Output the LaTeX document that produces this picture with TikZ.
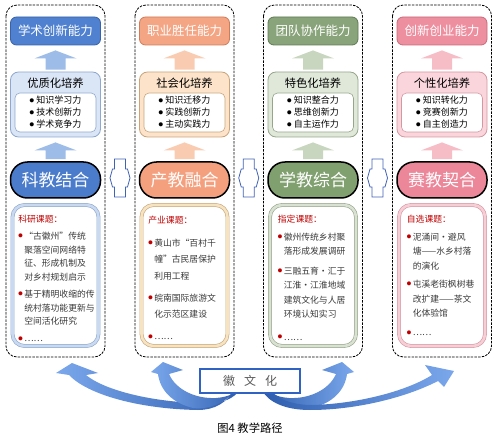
\documentclass[tikz,border=0pt]{standalone}
\usepackage{fontspec}
\setmainfont{Noto Sans CJK SC}
\usepackage{tikz}
\usetikzlibrary{calc}

% column colours
\definecolor{main1}{HTML}{4F81D0}\definecolor{edge1}{HTML}{3A62A6}
\definecolor{arr1}{HTML}{9DBCE8}\definecolor{soft1}{HTML}{DAE5F5}
\definecolor{line1}{HTML}{8FA8CF}\definecolor{band1}{HTML}{C9D9F0}
\definecolor{oval1}{HTML}{4A7CCB}
\definecolor{main2}{HTML}{F4A584}\definecolor{edge2}{HTML}{CF7C5A}
\definecolor{arr2}{HTML}{F9CCB2}\definecolor{soft2}{HTML}{FCE3CA}
\definecolor{line2}{HTML}{C9A57C}\definecolor{band2}{HTML}{F6E3C0}
\definecolor{oval2}{HTML}{F4A07E}
\definecolor{main3}{HTML}{89A47A}\definecolor{edge3}{HTML}{5F7A53}
\definecolor{arr3}{HTML}{C9D6BF}\definecolor{soft3}{HTML}{E0E8DA}
\definecolor{line3}{HTML}{97A68B}\definecolor{band3}{HTML}{D9E1D3}
\definecolor{oval3}{HTML}{80A06F}
\definecolor{main4}{HTML}{EE8FA0}\definecolor{edge4}{HTML}{C96A7A}
\definecolor{arr4}{HTML}{F7BDC7}\definecolor{soft4}{HTML}{FAD5DC}
\definecolor{line4}{HTML}{D498A3}\definecolor{band4}{HTML}{F7CED5}
\definecolor{oval4}{HTML}{EC8699}
\definecolor{titred}{HTML}{C00000}
\definecolor{bodygray}{HTML}{3A3A3A}
\definecolor{arrlight}{HTML}{7BA8EC}
\definecolor{arrdark}{HTML}{2E5DAE}
\definecolor{huiblue}{HTML}{2F62C2}
\definecolor{dblblue}{HTML}{4062B4}

\newcommand{\bdot}[1]{\textcolor{#1}{\raisebox{0.18em}{\scalebox{0.5}{●}}}}
\newcommand{\rdot}{\bdot{titred}\,}
\newcommand{\ind}{\hphantom{\rdot}}

\newcommand{\blockarrow}[3]{%
  \fill[#1] ($(#3.south)+(0,5)$) -- ++(21,8) -- ++(-11,0)
    -- ($(#2.north)+(10,-2)$) -- ++(-20,0)
    -- ($(#3.south)+(-10,13)$) -- ++(-11,0) -- cycle;}

\tikzset{
  outerbox/.style={draw, line width=0.8pt, dash pattern=on 2.5pt off 1.2pt, rounded corners=11pt},
  abbox/.style={rounded corners=6pt, minimum width=90pt, minimum height=28pt, line width=0.8pt,
    text=white, font=\fontsize{12.5}{14}\selectfont},
  cubox/.style={rounded corners=8pt, minimum width=90pt, minimum height=65pt, line width=0.8pt},
  cutitle/.style={font=\fontsize{11.3}{13}\selectfont},
  listbox/.style={fill=white, rounded corners=5pt, minimum width=81pt, minimum height=39pt,
    line width=0.6pt, align=left, font=\fontsize{9}{12}\selectfont},
  ovbox/.style={rounded corners=17pt, minimum width=90pt, minimum height=36pt, draw=black,
    line width=1.5pt, text=white, font=\fontsize{17}{19}\selectfont},
  pjbox/.style={fill=white, rounded corners=12pt, minimum width=86pt, minimum height=141pt,
    line width=0.6pt, double distance=2.6pt},
  pjtext/.style={anchor=north west, inner sep=0pt, align=left, text=bodygray},
  dblarrow/.style={draw=dblblue, fill=white, line width=0.8pt, line join=miter},
  culture/.style={draw=huiblue, fill=white, line width=1.2pt, minimum width=100pt,
    minimum height=24pt, text=black!65, font=\fontsize{12}{14}\selectfont},
}

\begin{document}
\begin{tikzpicture}[x=1pt, y=-1pt]
\useasboundingbox (0,0) rectangle (499,436);

% four columns
\foreach \n/\x/\ab/\cu/\ov/\la/\lb/\lc in {
  1/55.5/学术创新能力/优质化培养/科教结合/知识学习力/技术创新力/学术竞争力,
  2/184.5/职业胜任能力/社会化培养/产教融合/知识迁移力/实践创新力/主动实践力,
  3/313/团队协作能力/特色化培养/学教综合/知识整合力/思维创新力/自主运作力,
  4/442/创新创业能力/个性化培养/赛教契合/知识转化力/竞赛创新力/自主创造力}
{
  \draw[outerbox] (\x-49.5,5) rectangle (\x+49.5,357);
  \node[abbox, fill=main\n, draw=edge\n] (ab\n) at (\x,31) {\ab};
  \node[cubox, fill=soft\n, draw=line\n] (cu\n) at (\x,104.5) {};
  \node[cutitle] (ct\n) at (\x,83) {\cu};
  \node[listbox, draw=line\n] (li\n) at (\x,112.5)
    {\bdot{black}\ \la\\ \bdot{black}\ \lb\\ \bdot{black}\ \lc};
  \node[ovbox, fill=oval\n] (ov\n) at (\x,180) {\ov};
  \node[pjbox, draw=line\n, double=band\n] (pj\n) at (\x,275.5) {};
  \blockarrow{arr\n}{cu\n}{ab\n}
  \blockarrow{arr\n}{ov\n}{cu\n}
}

% project texts
\node[pjtext, font=\fontsize{8.8}{13.7}\selectfont] (tx1) at ($(pj1.north west)+(6,10)$)
  {\textcolor{titred}{科研课题：}\\[3.3pt]
   \rdot“古徽州”传统\\ \ind 聚落空间网络特\\ \ind 征、形成机制及\\ \ind 对乡村规划启示\\[3.3pt]
   \rdot 基于精明收缩的传\\ \ind 统村落功能更新与\\ \ind 空间活化研究\\[3.3pt]
   \rdot ……};
\node[pjtext, font=\fontsize{8.8}{16.5}\selectfont] (tx2) at ($(pj2.north west)+(7,11)$)
  {\textcolor{titred}{产业课题：}\\[6.5pt]
   \rdot 黄山市“百村千\\ \ind 幢”古民居保护\\ \ind 利用工程\\[5.5pt]
   \rdot 皖南国际旅游文\\ \ind 化示范区建设\\[5.5pt]
   \rdot ……};
\node[pjtext, font=\fontsize{8.8}{14.3}\selectfont] (tx3) at ($(pj3.north west)+(8,10)$)
  {\textcolor{titred}{指定课题：}\\[3.7pt]
   \rdot 徽州传统乡村聚\\ \ind 落形成发展调研\\[5.5pt]
   \rdot 三融五育·汇于\\ \ind 江淮·江淮地域\\ \ind 建筑文化与人居\\ \ind 环境认知实习\\[8.5pt]
   \rdot ……};
\node[pjtext, font=\fontsize{8.8}{14.6}\selectfont] (tx4) at ($(pj4.north west)+(8,10)$)
  {\textcolor{titred}{自选课题：}\\[3.4pt]
   \rdot 泥涌间·避风\\ \ind 塘——水乡村落\\ \ind 的演化\\[3.4pt]
   \rdot 屯溪老街枫树巷\\ \ind 改扩建——茶文\\ \ind 化体验馆\\[4.4pt]
   \rdot ……};

% hollow double arrows between the ovals
\foreach \a/\b in {1/2, 2/3, 3/4}
{
  \coordinate (m\a) at ($(ov\a)!0.5!(ov\b)+(0,-2)$);
  \begin{scope}[shift={(m\a)}]
    \draw[dblarrow] (-5.5,-19) -- (5.5,-19) -- (5.5,-9) -- (7.5,-9) -- (10,0) -- (7.5,9)
      -- (5.5,9) -- (5.5,19) -- (-5.5,19) -- (-5.5,9) -- (-7.5,9) -- (-10,0) -- (-7.5,-9)
      -- (-5.5,-9) -- cycle;
  \end{scope}
}

% curved arrows from the culture box
\shade[left color=arrlight, right color=arrdark]
  (72,363) -- (98,373) -- (86,375)
  .. controls (108,393) and (165,404) .. (212,403)
  .. controls (228,402) and (237,396) .. (242,386)
  -- (234,388)
  .. controls (228,403) and (214,410) .. (198,410)
  .. controls (140,409) and (88,395) .. (69,375)
  -- (56,373) -- cycle;
\shade[left color=arrlight, right color=arrdark]
  (163,362) -- (183,370) -- (169,374)
  .. controls (176,390) and (196,399) .. (216,398)
  .. controls (230,397) and (238,392) .. (243,384)
  -- (236,386)
  .. controls (230,402) and (210,410) .. (193,408)
  .. controls (172,403) and (160,390) .. (158,374)
  -- (151,372) -- cycle;
\shade[left color=arrdark, right color=arrlight]
  (342,362) -- (322,370) -- (336,374)
  .. controls (329,390) and (309,399) .. (289,398)
  .. controls (275,397) and (267,392) .. (262,384)
  -- (269,386)
  .. controls (275,402) and (295,410) .. (312,408)
  .. controls (333,403) and (345,390) .. (347,374)
  -- (354,372) -- cycle;
\shade[left color=arrdark, right color=arrlight]
  (454,371) -- (444,387) -- (438,381)
  .. controls (405,398) and (355,410) .. (310,410)
  .. controls (285,410) and (268,402) .. (262,390)
  -- (268,387)
  .. controls (276,399) and (292,405) .. (312,405)
  .. controls (355,404) and (405,392) .. (432,375)
  -- (425,365) -- cycle;

\node[culture] (hui) at (250,381) {徽\hspace{9pt}文\hspace{9pt}化};
\node[font=\fontsize{11.3}{13}\selectfont] (cap) at (250,428) {图4\ 教学路径};
\end{tikzpicture}
\end{document}
